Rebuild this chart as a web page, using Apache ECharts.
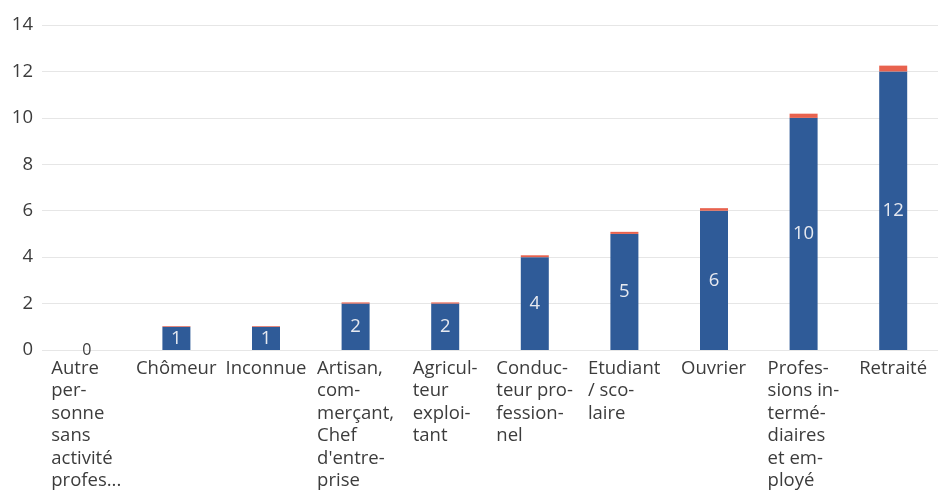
<!DOCTYPE html>
<html>
<head>
<meta charset="utf-8">
<script src="https://cdn.jsdelivr.net/npm/echarts@6/dist/echarts.min.js"></script>
<style>
html,body{margin:0;padding:0;background:#fff;}
#chart{width:938px;height:493px;}
</style>
</head>
<body>
<div id="chart"></div>
<script>
const categories = [
  "Autre\nper-\nsonne\nsans\nactivité\nprofes...",
  "Chômeur",
  "Inconnue",
  "Artisan,\ncom-\nmerçant,\nChef\nd'entre-\nprise",
  "Agricul-\nteur\nexploi-\ntant",
  "Conduc-\nteur pro-\nfession-\nnel",
  "Etudiant\n/ sco-\nlaire",
  "Ouvrier",
  "Profes-\nsions in-\ntermé-\ndiaires\net em-\nployé",
  "Retraité"
];
const counts = [0, 1, 1, 2, 2, 4, 5, 6, 10, 12];
const shares = [0, 0.03, 0.03, 0.05, 0.05, 0.08, 0.09, 0.11, 0.18, 0.25];
const yTicks = [0, 2, 4, 6, 8, 10, 12, 14];

const FONT = '"Open Sans", sans-serif';
const LABEL_SIZE = 18.5;

const ctx = document.createElement('canvas').getContext('2d');
ctx.font = LABEL_SIZE + 'px "Open Sans"';
const blockWidth = {};
categories.forEach(c => {
  blockWidth[c] = Math.ceil(Math.max(...c.split('\n').map(l => ctx.measureText(l).width)));
});

const rich = {};
categories.forEach((c, i) => {
  rich['c' + i] = {width: blockWidth[c], align: 'left', fontSize: LABEL_SIZE, lineHeight: 22.5, color: '#3c3c3c', fontFamily: FONT};
});

const chart = echarts.init(document.getElementById('chart'));
chart.setOption({
  animation: false,
  grid: {left: 42, right: -4, top: 25, bottom: 143, containLabel: false},
  xAxis: {
    type: 'category',
    data: categories,
    axisLine: {show: false},
    axisTick: {show: false},
    axisLabel: {
      interval: 0,
      margin: 7,
      verticalAlign: 'top',
      formatter: (val, idx) => val.split('\n').map(l => '{c' + idx + '|' + l + '}').join('\n'),
      rich: rich
    }
  },
  yAxis: {
    type: 'value',
    min: yTicks[0],
    max: yTicks[yTicks.length - 1],
    interval: 2,
    axisLine: {show: false},
    axisTick: {show: false},
    axisLabel: {fontSize: 18.5, color: '#3c3c3c', fontFamily: FONT, margin: 9},
    splitLine: {lineStyle: {color: '#e6e6e6', width: 1}}
  },
  series: [
    {
      type: 'bar',
      stack: 's',
      barWidth: 28,
      data: counts.map(v => v === 0
        ? {value: v, label: {position: 'top', color: '#3c3c3c', distance: -8, fontSize: 16}}
        : v),
      itemStyle: {color: '#2f5b98'},
      label: {
        show: true,
        position: 'inside',
        color: '#e6e9f0',
        fontSize: 18.5,
        fontFamily: FONT
      }
    },
    {
      type: 'bar',
      stack: 's',
      barWidth: 28,
      data: shares,
      itemStyle: {color: '#e8624e'},
      label: {show: false}
    }
  ]
});
</script>
</body>
</html>
